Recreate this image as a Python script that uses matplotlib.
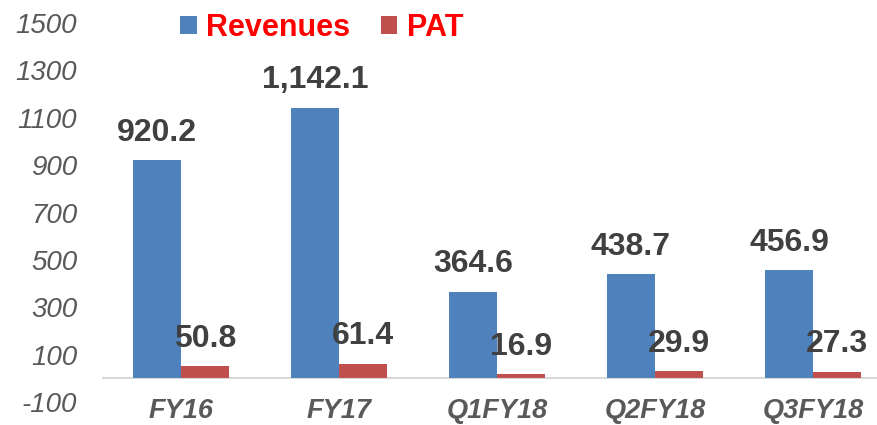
import matplotlib.pyplot as plt
import matplotlib.transforms as mtransforms
import numpy as np

plt.rcParams['font.family'] = ['Liberation Sans', 'DejaVu Sans']
plt.rcParams['axes.unicode_minus'] = False

periods = ['FY16', 'FY17', 'Q1FY18', 'Q2FY18', 'Q3FY18']
revenues = [920.2, 1142.1, 364.6, 438.7, 456.9]
pat = [50.8, 61.4, 16.9, 29.9, 27.3]
y_ticks = [-100, 100, 300, 500, 700, 900, 1100, 1300, 1500]

blue = '#4F81BD'
red = '#C0504D'

fig = plt.figure(figsize=(8.77, 4.25), dpi=100)
ax = fig.add_axes([102 / 877, 23 / 425, 790 / 877, 379 / 425])

x = np.arange(len(periods))
w = 0.304
b1 = ax.bar(x - w / 2, revenues, w, color=blue, label='Revenues')
b2 = ax.bar(x + w / 2, pat, w, color=red, label='PAT')

for bars, vals in ((b1, revenues), (b2, pat)):
    for rect, v in zip(bars, vals):
        ax.annotate('{:,.1f}'.format(v), (rect.get_x() + rect.get_width() / 2, v),
                    xytext=(0, 9), textcoords='offset points',
                    ha='center', va='bottom', fontsize=23, fontweight='bold',
                    color='#404040')

ax.axhline(0, color='#D9D9D9', lw=1.5, zorder=0)

ax.set_xlim(-0.5, 4.5)
ax.set_ylim(-100, 1500)
ax.set_yticks(y_ticks)
ax.set_yticklabels([str(t) for t in y_ticks], fontsize=20, style='italic', color='#595959')
ax.set_xticks([])
ax.tick_params(axis='y', length=0, pad=18)
for s in ax.spines.values():
    s.set_visible(False)

# category names sit just above the bottom edge of the figure
trans = mtransforms.blended_transform_factory(ax.transData, fig.transFigure)
for xi, name in zip(x, periods):
    ax.text(xi, 1.5 / 425, name, transform=trans, ha='center', va='bottom',
            fontsize=19.5, style='italic', fontweight='bold', color='#595959')

leg = fig.legend(loc='center left', bbox_to_anchor=(180 / 877, (425 - 28) / 425),
                 ncol=2, frameon=False, borderpad=0, borderaxespad=0,
                 handlelength=0.55, handleheight=0.55, handletextpad=0.3,
                 columnspacing=1.0, prop={'size': 22, 'weight': 'bold'})
for t in leg.get_texts():
    t.set_color('#FF0000')

fig.savefig('out.png', dpi=100)
